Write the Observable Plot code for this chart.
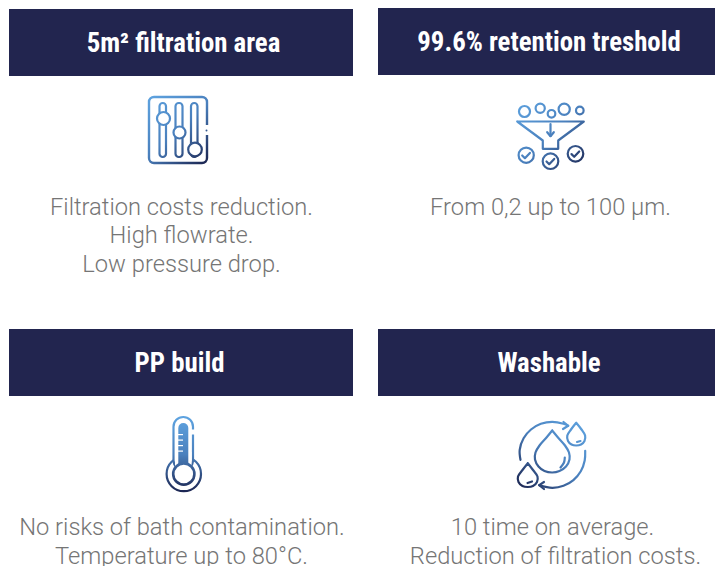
<!DOCTYPE html>
<html><head><meta charset="utf-8">
<script src="https://cdn.jsdelivr.net/npm/d3@7"></script>
<script src="https://cdn.jsdelivr.net/npm/@observablehq/plot@0.6"></script>
<style>
html,body{margin:0;padding:0;background:#fff}
svg{display:block}
.icon{filter:blur(.3px)}
</style></head><body><div id="chart"></div>
<script>
const headerTitles = ["5m² filtration area","99.6% retention treshold","PP build","Washable"];
const headerLeft = [9,378,9,378];
const headerRight = [353,716,353,716];
const headerTop = [9,8,329,329];
const headerBottom = [76,75,396,396];
const headerCenter = [183,548.5,179,548.5];
const bodyText = [
  ["Filtration costs reduction.",181,207],["High flowrate.",181,235],["Low pressure drop.",181,264],
  ["From 0,2 up to 100 µm.",550,207],
  ["No risks of bath contamination.",181.5,527],["Temperature up to 80°C.",181,556],
  ["10 time on average.",552,527],["Reduction of filtration costs.",555,556]
];
const gradients = [
  ["gSlide",148,97,207,163],
  ["gFunnel",516,100,585,170],
  ["gTherm",183,417,183,492],
  ["gDrop",585,420,520,490]
];
const NAVY="#22254f";
// slider icon
const frame=[[149,97,207,163]];
const frameGap=[[204,125,210,135]];
const frameDot=[[206,130,1]];
const sliderTracks=[[159.5,103,166,157],[175.5,103,182.5,157],[191,103,197.5,157]];
const sliderKnobs=[[163,118,6.5],[179,132,6],[194.5,149,6.8]];
// funnel icon
const bubbles=[[524,111,5.5],[539.7,107.7,4.6],[551,113.3,3.8],[563.7,108.7,5.6],[579.3,110,3.8]];
const funnelBody=[[516.7,121],[583.3,121],[557.7,140],[557.7,148.3],[542.3,148.3],[542.3,140],[516.7,121]];
const funnelArrow=[[550,123.5],[550,135.5]];
const funnelHead=[[546.7,131.7],[550,135.7],[553.3,131.7]];
const checkDisks=[[525.7,154.7,7.6],[550,160.7,7.8],[575,153.3,7.8]];
const checks=[
  [[521.7,155],[524.4,157.7],[529.4,152.4]],
  [[546,161],[548.7,163.7],[553.7,158.4]],
  [[571,153.6],[573.7,156.3],[578.7,151]]
];
// thermometer icon
const thermBulb=[[183.3,473.5,17.2]];
const thermTube=[[173.5,417,193,470]];
const thermNeck=[[175,452,191.5,470],[191,429.5,195,434.5]];
const thermColumn=[[178.3,423,188.3,470]];
const thermTicks=[[178,434,183,435.2],[178,439.5,183,440.7],[178,445,183,446.2],[178,450.5,183,451.7]];
const thermInner=[[183.3,473.5,10.6]];
// water icon
const dropBig=[[551.7,430],[546,437],[539,445],[535,452],[534.5,459],[538,466],[544,470.5],[551.7,472],[559,470.5],[565.5,466],[569,459],[568.5,452],[564.5,445],[557.5,437],[551.7,430]];
const dropTR=[[575.7,422.3],[570.5,429],[566.8,435],[567.5,440.5],[571,444],[575.7,445],[580.5,444],[584,440.5],[584.6,435],[581,429],[575.7,422.3]];
const dropBL=[[527.3,462.7],[522,469.5],[517.5,476],[518,481.5],[522,485.5],[527.3,486.5],[532.5,485.5],[536.5,481.5],[537,476],[532.5,469.5],[527.3,462.7]];
const dropMarks=[
  [[564.3,457],[563.5,462],[560,467]],
  [[576.5,441.5],[580,440.5]],
  [[527,482.5],[531.5,481]]
];
const arcTop=[[520,459.3],[519.2,449.3],[523.1,437.8],[530.5,429],[540.4,423.3],[551.7,421.3],[563,423.3],[567.7,425.3]];
const arcTopHead=[[563,421.5],[567.7,425.3],[562.5,428.5]];
const arcBottom=[[584.7,450.3],[584.2,460],[580.3,470.8],[572.9,479.6],[563,485.3],[551.7,487.3],[538.7,484.6]];
const arcBottomHead=[[543.5,481.5],[538.7,484.6],[543.5,488.5]];

const defs=()=>{
  const d=d3.create("svg:defs");
  for(const [id,a,b,c,e] of gradients){
    const g=d.append("linearGradient").attr("id",id).attr("gradientUnits","userSpaceOnUse")
      .attr("x1",a).attr("y1",b).attr("x2",c).attr("y2",e);
    g.append("stop").attr("offset","0%").attr("stop-color","#5ea3e0");
    g.append("stop").attr("offset","50%").attr("stop-color","#4a80bd");
    g.append("stop").attr("offset","100%").attr("stop-color","#1b2450");
  }
  return d.node();
};
const box=(data,o)=>Plot.rect(data,{x1:d=>d[0],y1:d=>d[1],x2:d=>d[2],y2:d=>d[3],className:"icon",...o});
const disk=(data,o)=>Plot.dot(data,{x:d=>d[0],y:d=>d[1],r:d=>d[2],className:"icon",...o});
const path=(data,stroke,o={})=>Plot.line(data,{x:d=>d[0],y:d=>d[1],stroke,strokeWidth:2.2,strokeLinecap:"round",strokeLinejoin:"round",className:"icon",...o});
const cr={curve:"catmull-rom"};
const headers=headerTitles.map((t,i)=>({t,c:headerCenter[i],x1:headerLeft[i],x2:headerRight[i],y1:headerTop[i],y2:headerBottom[i]}));

const plot=Plot.plot({
  width:715,height:566,margin:0,
  x:{domain:[0,715],range:[0,715],axis:null},
  y:{domain:[0,566],range:[0,566],axis:null},
  r:{type:"identity"},
  style:{background:"#fff"},
  marks:[
    defs,
    Plot.rect(headers,{x1:"x1",x2:"x2",y1:"y1",y2:"y2",fill:NAVY}),
    Plot.text(headers,{x:"c",y:d=>(d.y1+d.y2)/2,text:"t",fill:"#fff",fontFamily:"'Roboto Condensed',Roboto",fontWeight:700,fontSize:26.8}),
    Plot.text(bodyText,{x:d=>d[1],y:d=>d[2],text:d=>d[0],fill:"#757575",fontFamily:"Roboto",fontWeight:300,fontSize:23.7}),
    // slider
    box(frame,{stroke:"url(#gSlide)",strokeWidth:2.4,fill:"none",rx:5}),
    box(frameGap,{fill:"#fff"}),
    disk(frameDot,{fill:"url(#gSlide)"}),
    box(sliderTracks,{stroke:"url(#gSlide)",strokeWidth:2.2,fill:"none",rx:3.2}),
    disk(sliderKnobs,{stroke:"url(#gSlide)",strokeWidth:2.2,fill:"#fff"}),
    // funnel
    disk(bubbles,{stroke:"url(#gFunnel)",strokeWidth:2.2}),
    path(funnelBody,"url(#gFunnel)"),
    path(funnelArrow,"url(#gFunnel)"),
    path(funnelHead,"url(#gFunnel)"),
    disk(checkDisks,{stroke:"url(#gFunnel)",strokeWidth:2.2}),
    ...checks.map(c=>path(c,"url(#gFunnel)")),
    // thermometer
    disk(thermBulb,{stroke:"url(#gTherm)",strokeWidth:2.2,fill:"#fff"}),
    box(thermTube,{stroke:"url(#gTherm)",strokeWidth:2.2,fill:"#fff",rx:9.7}),
    box(thermNeck,{fill:"#fff"}),
    box(thermColumn,{fill:"url(#gTherm)",rx:5}),
    box(thermTicks,{fill:"#fff"}),
    disk(thermInner,{stroke:"url(#gTherm)",strokeWidth:2.6,fill:"#fff"}),
    // water
    path(arcTop,"url(#gDrop)",cr),
    path(arcTopHead,"url(#gDrop)"),
    path(arcBottom,"url(#gDrop)",cr),
    path(arcBottomHead,"url(#gDrop)"),
    path(dropBig,"url(#gDrop)",cr),
    path(dropTR,"url(#gDrop)",cr),
    path(dropBL,"url(#gDrop)",cr),
    ...dropMarks.map(c=>path(c,"url(#gDrop)",cr))
  ]
});
document.getElementById("chart").append(plot);
</script></body></html>
